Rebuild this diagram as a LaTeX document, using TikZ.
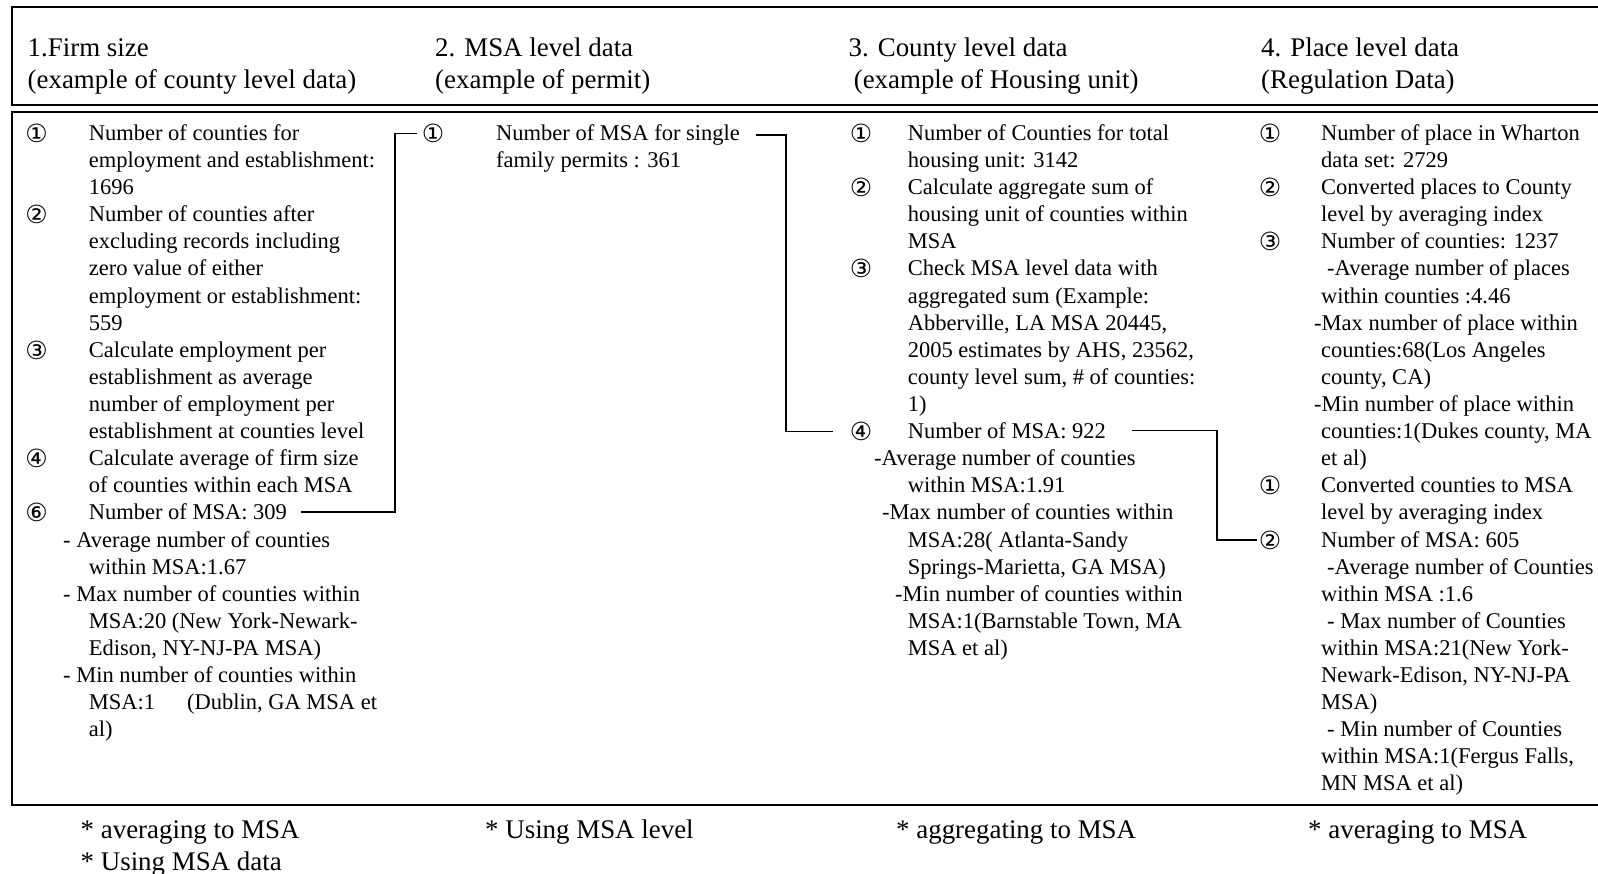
\documentclass[tikz,border=0pt]{standalone}
\usepackage{fontspec}
\setmainfont{Liberation Serif}
\newfontfamily\circfont{DejaVu Sans}
\usetikzlibrary{calc}
\tikzset{
  tx/.style={anchor=base west, inner sep=0pt, font=\fontsize{22.5}{27}\selectfont},
  hd/.style={anchor=base west, inner sep=0pt, font=\fontsize{26.9}{32}\selectfont},
  cn/.style={anchor=base, inner sep=1pt, font=\circfont\fontsize{25}{26}\selectfont},
  frame/.style={line width=2.2pt},
  conn/.style={line width=1.3pt},
}
\newcommand\tl[4]{\node[tx] (#1) at (#2,{140.5+27.1*#3}) {#4};}
\newcommand\cc[4]{\node[cn] (#1) at (#2,{142.5+27.1*#3}) {#4};}
\begin{document}
\begin{tikzpicture}[x=1pt,y=-1pt]
\useasboundingbox (0,0) rectangle (1598,874);
% frames
\draw[frame] (12,7) rectangle (1640,105);
\draw[frame] (12,112) rectangle (1640,805);
% headers
\node[hd] (h1a) at (27.5,57) {1.Firm size};
\node[hd] (h1b) at (27.5,88.5) {(example of county level data)};
\node[hd] (h2a) at (435,57) {2. MSA level data};
\node[hd] (h2b) at (435,88.5) {(example of permit)};
\node[hd] (h3a) at (848.5,57) {3. County level data};
\node[hd] (h3b) at (853.6,88.5) {(example of Housing unit)};
\node[hd] (h4a) at (1261,57) {4. Place level data};
\node[hd] (h4b) at (1261,88.5) {(Regulation Data)};
% column 1
\cc{a1}{36.7}{0}{①}
\tl{a1a}{88.6}{0}{Number of counties for}
\tl{a1b}{88.6}{1}{employment and establishment:}
\tl{a1c}{88.6}{2}{1696}
\cc{a2}{36.7}{3}{②}
\tl{a2a}{88.6}{3}{Number of counties after}
\tl{a2b}{88.6}{4}{excluding records including}
\tl{a2c}{88.6}{5}{zero value of either}
\tl{a2d}{88.6}{6}{employment or establishment:}
\tl{a2e}{88.6}{7}{559}
\cc{a3}{36.7}{8}{③}
\tl{a3a}{88.6}{8}{Calculate employment per}
\tl{a3b}{88.6}{9}{establishment as average}
\tl{a3c}{88.6}{10}{number of employment per}
\tl{a3d}{88.6}{11}{establishment at counties level}
\cc{a4}{36.7}{12}{④}
\tl{a4a}{88.6}{12}{Calculate average of firm size}
\tl{a4b}{88.6}{13}{of counties within each MSA}
\cc{a5}{36.7}{14}{⑥}
\tl{a5a}{88.6}{14}{Number of MSA: 309}
\tl{a5b}{63}{15}{- Average number of counties}
\tl{a5c}{88.6}{16}{within MSA:1.67}
\tl{a5d}{63}{17}{- Max number of counties within}
\tl{a5e}{88.6}{18}{MSA:20 (New York-Newark-}
\tl{a5f}{88.6}{19}{Edison, NY-NJ-PA MSA)}
\tl{a5g}{63}{20}{- Min number of counties within}
\tl{a5h}{88.6}{21}{MSA:1\hspace*{32pt}(Dublin, GA MSA et}
\tl{a5i}{88.6}{22}{al)}
% column 2
\cc{b1}{433}{0}{①}
\tl{b1a}{496}{0}{Number of MSA for single}
\tl{b1b}{496}{1}{family permits : 361}
% column 3
\cc{c1}{861}{0}{①}
\tl{c1a}{907.6}{0}{Number of Counties for total}
\tl{c1b}{907.6}{1}{housing unit: 3142}
\cc{c2}{861}{2}{②}
\tl{c2a}{907.6}{2}{Calculate aggregate sum of}
\tl{c2b}{907.6}{3}{housing unit of counties within}
\tl{c2c}{907.6}{4}{MSA}
\cc{c3}{861}{5}{③}
\tl{c3a}{907.6}{5}{Check MSA level data with}
\tl{c3b}{907.6}{6}{aggregated sum (Example:}
\tl{c3c}{907.6}{7}{Abberville, LA MSA 20445,}
\tl{c3d}{907.6}{8}{2005 estimates by AHS, 23562,}
\tl{c3e}{907.6}{9}{county level sum, \# of counties:}
\tl{c3f}{907.6}{10}{1)}
\cc{c4}{861}{11}{④}
\tl{c4a}{907.6}{11}{Number of MSA: 922}
\tl{c4b}{874}{12}{-Average number of counties}
\tl{c4c}{907.6}{13}{within MSA:1.91}
\tl{c4d}{882}{14}{-Max number of counties within}
\tl{c4e}{907.6}{15}{MSA:28( Atlanta-Sandy}
\tl{c4f}{907.6}{16}{Springs-Marietta, GA MSA)}
\tl{c4g}{895}{17}{-Min number of counties within}
\tl{c4h}{907.6}{18}{MSA:1(Barnstable Town, MA}
\tl{c4i}{907.6}{19}{MSA et al)}
% column 4
\cc{d1}{1270}{0}{①}
\tl{d1a}{1321}{0}{Number of place in Wharton}
\tl{d1b}{1321}{1}{data set: 2729}
\cc{d2}{1270}{2}{②}
\tl{d2a}{1321}{2}{Converted places to County}
\tl{d2b}{1321}{3}{level by averaging index}
\cc{d3}{1270}{4}{③}
\tl{d3a}{1321}{4}{Number of counties: 1237}
\tl{d3b}{1327}{5}{-Average number of places}
\tl{d3c}{1321}{6}{within counties :4.46}
\tl{d3d}{1314}{7}{-Max number of place within}
\tl{d3e}{1321}{8}{counties:68(Los Angeles}
\tl{d3f}{1321}{9}{county, CA)}
\tl{d3g}{1314}{10}{-Min number of place within}
\tl{d3h}{1321}{11}{counties:1(Dukes county, MA}
\tl{d3i}{1321}{12}{et al)}
\cc{d4}{1270}{13}{①}
\tl{d4a}{1321}{13}{Converted counties to MSA}
\tl{d4b}{1321}{14}{level by averaging index}
\cc{d5}{1270}{15}{②}
\tl{d5a}{1321}{15}{Number of MSA: 605}
\tl{d5b}{1327}{16}{-Average number of Counties}
\tl{d5c}{1321}{17}{within MSA :1.6}
\tl{d5d}{1327}{18}{- Max number of Counties}
\tl{d5e}{1321}{19}{within MSA:21(New York-}
\tl{d5f}{1321}{20}{Newark-Edison, NY-NJ-PA}
\tl{d5g}{1321}{21}{MSA)}
\tl{d5h}{1327}{22}{- Min number of Counties}
\tl{d5i}{1321}{23}{within MSA:1(Fergus Falls,}
\tl{d5j}{1321}{24}{MN MSA et al)}
% connectors
\coordinate (v1) at (395,0);
\coordinate (v2) at (786,0);
\coordinate (v3) at (1217,0);
\draw[conn, shorten <=14pt, shorten >=4pt] (a5a.east) -- (a5a.east -| v1) |- (b1.west);
\draw[conn, shorten <=16pt, shorten >=16pt] (b1a.east) -- (b1a.east -| v2) |- (c4.west);
\draw[conn, shorten <=26pt, shorten >=1pt] (c4a.east) -- (c4a.east -| v3) |- (d5.west);
% footer notes
\node[hd] (f1a) at (80.5,838) {* averaging to MSA};
\node[hd] (f1b) at (80.5,870) {* Using MSA data};
\node[hd] (f2) at (485,838) {* Using MSA level};
\node[hd] (f3) at (896,838) {* aggregating to MSA};
\node[hd] (f4) at (1308,838) {* averaging to MSA};
\end{tikzpicture}
\end{document}
